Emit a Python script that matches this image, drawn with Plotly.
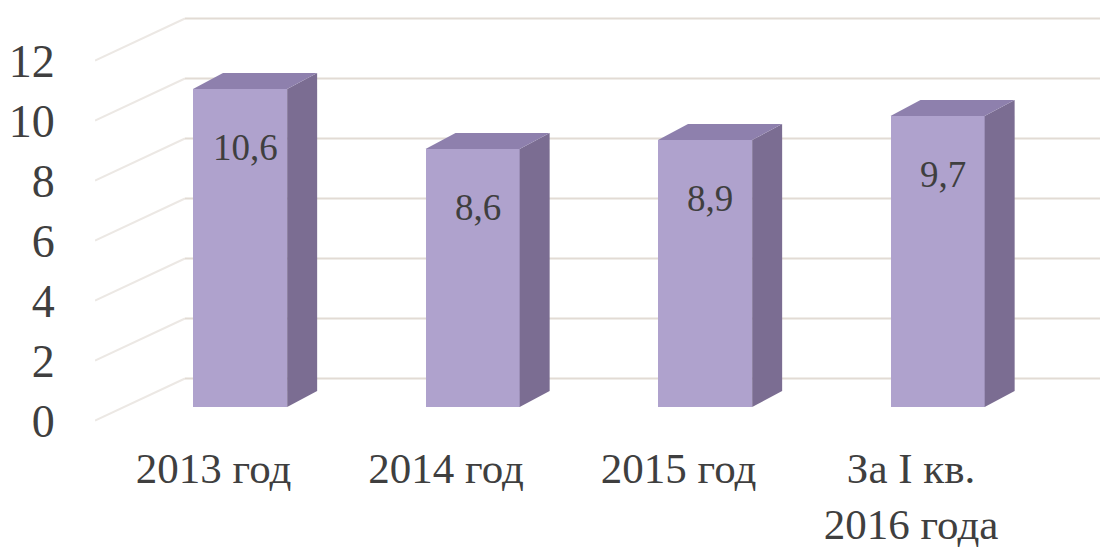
import plotly.graph_objects as go

categories = ["2013 год", "2014 год", "2015 год", "За I кв.<br>2016 года"]
values = [10.6, 8.6, 8.9, 9.7]
value_labels = ["10,6", "8,6", "8,9", "9,7"]
y_ticks = [0, 2, 4, 6, 8, 10, 12]

# pseudo-3D geometry (axis units)
BAR_W = 0.405
DEPTH_X = 0.129
DEPTH_Y = 0.533
WALL_BACK = 0.95
WALL_FRONT = -0.45
X_FRONT_LEFT = -0.624
X_WALL_LEFT = -0.237
X_RIGHT = 3.74

FRONT = "#afa2cd"
SIDE = "#7b6d92"
TOP = "#8e80ad"
GRID = "#e2dbd4"
GRID_SIDE = "#ece8e4"
TEXT = "#3f3f3f"
FONT = "Times New Roman, Liberation Serif, serif"

xs = list(range(len(values)))

fig = go.Figure()
fig.add_trace(go.Bar(
    x=xs, y=values, width=BAR_W,
    marker=dict(color=FRONT, line=dict(width=0)),
    hoverinfo="skip", showlegend=False,
))

shapes = []
for t in y_ticks:
    diag = f"M {X_FRONT_LEFT},{t + WALL_FRONT} L {X_WALL_LEFT},{t + WALL_BACK}"
    back = f"M {X_WALL_LEFT},{t + WALL_BACK} L {X_RIGHT},{t + WALL_BACK}"
    shapes.append(dict(type="path", path=diag, xref="x", yref="y",
                       line=dict(color=GRID_SIDE, width=2), layer="below"))
    shapes.append(dict(type="path", path=back, xref="x", yref="y",
                       line=dict(color=GRID, width=2), layer="below"))

for x, v in zip(xs, values):
    xl, xr = x - BAR_W / 2, x + BAR_W / 2
    side = (f"M {xr},0 L {xr + DEPTH_X},{DEPTH_Y} L {xr + DEPTH_X},{v + DEPTH_Y} "
            f"L {xr},{v} Z")
    top = (f"M {xl},{v} L {xl + DEPTH_X},{v + DEPTH_Y} L {xr + DEPTH_X},{v + DEPTH_Y} "
           f"L {xr},{v} Z")
    shapes.append(dict(type="path", path=side, xref="x", yref="y",
                       fillcolor=SIDE, line=dict(width=0), layer="above"))
    shapes.append(dict(type="path", path=top, xref="x", yref="y",
                       fillcolor=TOP, line=dict(width=0), layer="above"))

annotations = []
for x, v, lab in zip(xs, values, value_labels):
    annotations.append(dict(x=x, y=v, xref="x", yref="y", text=lab,
                            showarrow=False, yshift=-58, xshift=5,
                            font=dict(family=FONT, size=37, color=TEXT)))

fig.update_layout(
    width=1100, height=546,
    margin=dict(l=87, r=0, t=0, b=115),
    paper_bgcolor="white", plot_bgcolor="white",
    shapes=shapes, annotations=annotations,
    bargap=0,
    xaxis=dict(
        range=[X_FRONT_LEFT, 3.733],
        tickvals=[x - 0.114 for x in xs], ticktext=categories,
        tickfont=dict(family=FONT, size=43, color=TEXT),
        showgrid=False, zeroline=False, showline=False,
        ticks="", automargin=False, fixedrange=True,
    ),
    yaxis=dict(
        range=[-1.0667, 13.3],
        tickvals=[t + WALL_FRONT for t in y_ticks], ticktext=[str(t) for t in y_ticks],
        tickfont=dict(family=FONT, size=46, color=TEXT),
        showgrid=False, zeroline=False, showline=False,
        ticks="outside", ticklen=30, tickcolor="rgba(0,0,0,0)",
        automargin=False, fixedrange=True,
    ),
)

fig.write_html("out.html")
